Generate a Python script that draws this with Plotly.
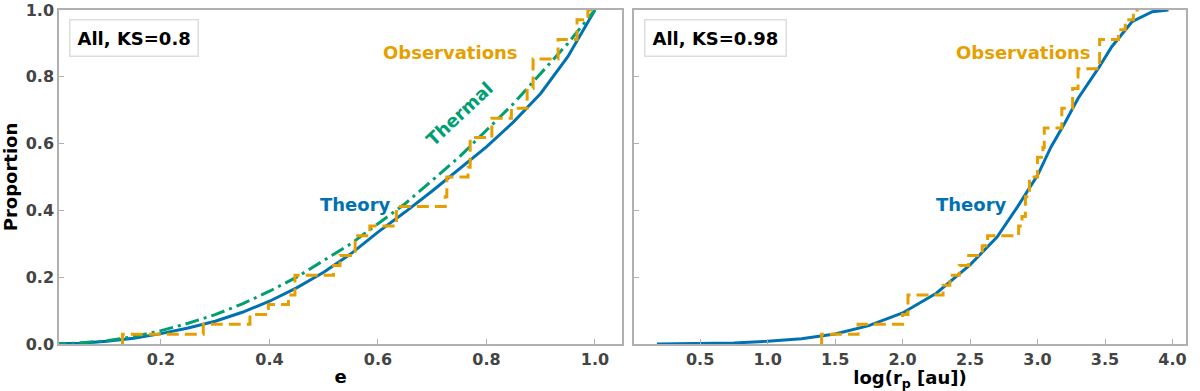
"""
Cumulative distributions: eccentricity and log periastron, theory vs observations.
"""

import plotly.graph_objects as go

BLUE = "#0072B2"
ORANGE = "#E69F00"
GREEN = "#009E73"
FONT = "DejaVu Sans"

# left panel: eccentricity
ecc_grid = [0.0, 0.05, 0.1, 0.15, 0.2, 0.25, 0.3, 0.35, 0.4, 0.45, 0.5,
            0.55, 0.6, 0.65, 0.7, 0.75, 0.8, 0.85, 0.9, 0.95, 1.0]
ecc_theory = [0.0, 0.002, 0.008, 0.017, 0.031, 0.048, 0.068, 0.095, 0.128, 0.168, 0.215,
              0.27, 0.335, 0.395, 0.458, 0.523, 0.59, 0.665, 0.75, 0.86, 1.0]
ecc_thermal = [0.0, 0.003, 0.01, 0.022, 0.04, 0.062, 0.088, 0.12, 0.158, 0.2, 0.25,
               0.3, 0.36, 0.42, 0.49, 0.56, 0.64, 0.72, 0.81, 0.9, 1.0]
ecc_obs_x = [0.129, 0.129, 0.278, 0.364, 0.398, 0.435, 0.447, 0.518, 0.53, 0.558,
             0.585, 0.634, 0.724, 0.727, 0.766, 0.77, 0.81, 0.846, 0.875, 0.886,
             0.932, 0.967, 0.987, 1.0]
ecc_obs_y = [0.0, 0.029, 0.059, 0.088, 0.118, 0.147, 0.206, 0.235, 0.265, 0.324,
             0.353, 0.412, 0.441, 0.5, 0.529, 0.618, 0.676, 0.706, 0.765, 0.853,
             0.912, 0.971, 1.0, 1.0]

# right panel: log periastron
rp_grid = [0.18, 0.5, 0.75, 1.0, 1.25, 1.5, 1.75, 2.0, 2.25, 2.5, 2.7,
           2.85, 3.0, 3.1, 3.2, 3.3, 3.45, 3.55, 3.7, 3.85, 3.97]
rp_theory = [0.0, 0.001, 0.003, 0.008, 0.016, 0.03, 0.055, 0.093, 0.152, 0.237, 0.32,
             0.41, 0.505, 0.59, 0.66, 0.735, 0.825, 0.89, 0.965, 0.995, 1.0]
rp_obs_x = [1.40, 1.40, 1.67, 2.00, 2.04, 2.30, 2.35, 2.42, 2.49, 2.59, 2.63, 2.86,
            2.885, 2.91, 2.94, 3.00, 3.04, 3.05, 3.18, 3.26, 3.30, 3.46, 3.60,
            3.65, 3.71, 3.75]
rp_obs_y = [0.0, 0.029, 0.059, 0.088, 0.147, 0.176, 0.206, 0.235, 0.265, 0.294,
            0.324, 0.353, 0.382, 0.441, 0.5, 0.559, 0.588, 0.647, 0.706, 0.765,
            0.824, 0.912, 0.941, 0.971, 1.0, 1.0]

ks_labels = ["All, KS=0.8", "All, KS=0.98"]

fig = go.Figure()

fig.add_trace(go.Scatter(x=ecc_grid, y=ecc_theory, mode="lines",
                         line=dict(color=BLUE, width=3), xaxis="x", yaxis="y"))
fig.add_trace(go.Scatter(x=ecc_grid, y=ecc_thermal, mode="lines",
                         line=dict(color=GREEN, width=3, dash="14px,5px,3px,5px"),
                         xaxis="x", yaxis="y"))
fig.add_trace(go.Scatter(x=ecc_obs_x, y=ecc_obs_y, mode="lines", line_shape="hv",
                         line=dict(color=ORANGE, width=3, dash="12px,6px"),
                         xaxis="x", yaxis="y"))

fig.add_trace(go.Scatter(x=rp_grid, y=rp_theory, mode="lines",
                         line=dict(color=BLUE, width=3), xaxis="x2", yaxis="y2"))
fig.add_trace(go.Scatter(x=rp_obs_x, y=rp_obs_y, mode="lines", line_shape="hv",
                         line=dict(color=ORANGE, width=3, dash="12px,6px"),
                         xaxis="x2", yaxis="y2"))

axis_common = dict(
    showline=True, mirror=True, linecolor="#b0b0b0", linewidth=1.5,
    showgrid=False, zeroline=False, ticks="inside", ticklen=5,
    tickcolor="#b0b0b0", tickwidth=1, automargin=False,
    tickfont=dict(family=FONT, size=16, color="#444444", weight="bold"),
)
title_font = dict(family=FONT, size=18, color="black", weight="bold")

fig.update_layout(
    width=1200, height=391,
    margin=dict(l=59, r=14, t=10, b=47),
    plot_bgcolor="white", paper_bgcolor="white",
    showlegend=False,
    xaxis=dict(domain=[0, 0.4996], range=[0.012, 1.05],
               tickvals=[0.2, 0.4, 0.6, 0.8, 1.0], ticktext=["0.2", "0.4", "0.6", "0.8", "1.0"],
               title=dict(text="e", font=title_font, standoff=2), **axis_common),
    yaxis=dict(range=[0, 1.0], tickvals=[0, 0.2, 0.4, 0.6, 0.8, 1.0],
               ticktext=["0.0", "0.2", "0.4", "0.6", "0.8", "1.0"],
               title=dict(text="Proportion", font=title_font, standoff=6), **axis_common),
    xaxis2=dict(domain=[0.5102, 1], range=[0.01, 4.1], anchor="y2",
                tickvals=[0.5, 1.0, 1.5, 2.0, 2.5, 3.0, 3.5, 4.0],
                ticktext=["0.5", "1.0", "1.5", "2.0", "2.5", "3.0", "3.5", "4.0"],
                title=dict(text="log(r<sub>p</sub> [au])", font=title_font, standoff=2),
                **axis_common),
    yaxis2=dict(range=[0, 1.0], anchor="x2", tickvals=[0, 0.2, 0.4, 0.6, 0.8, 1.0],
                showticklabels=False, **axis_common),
)

label_font = dict(family=FONT, size=18, weight="bold")
annotations = [
    dict(xref="x", yref="y", x=0.862, y=0.874, text="Observations",
         font=dict(color=ORANGE, **label_font), xanchor="right", yanchor="middle", showarrow=False),
    dict(xref="x", yref="y", x=0.751, y=0.689, text="Thermal", textangle=-43,
         font=dict(color=GREEN, **label_font), xanchor="center", yanchor="middle", showarrow=False),
    dict(xref="x", yref="y", x=0.628, y=0.419, text="Theory",
         font=dict(color=BLUE, **label_font), xanchor="right", yanchor="middle", showarrow=False),
    dict(xref="x2", yref="y2", x=2.79, y=0.418, text="Theory",
         font=dict(color=BLUE, **label_font), xanchor="right", yanchor="middle", showarrow=False),
    dict(xref="x2", yref="y2", x=3.41, y=0.874, text="Observations",
         font=dict(color=ORANGE, **label_font), xanchor="right", yanchor="middle", showarrow=False),
]
for i, label in enumerate(ks_labels):
    suffix = "" if i == 0 else "2"
    annotations.append(dict(
        xref=f"x{suffix} domain", yref=f"y{suffix} domain", x=0.018, y=0.973,
        text=label, font=dict(color="black", **label_font),
        xanchor="left", yanchor="top", showarrow=False,
        bordercolor="#dddddd", borderwidth=1.5, borderpad=7, bgcolor="white",
    ))
fig.update_layout(annotations=annotations)

# drop the default body margin so the figure sits at the window's corner
fig.write_html("out.html", config={"displayModeBar": False},
               post_script="document.body.style.margin='0';")
